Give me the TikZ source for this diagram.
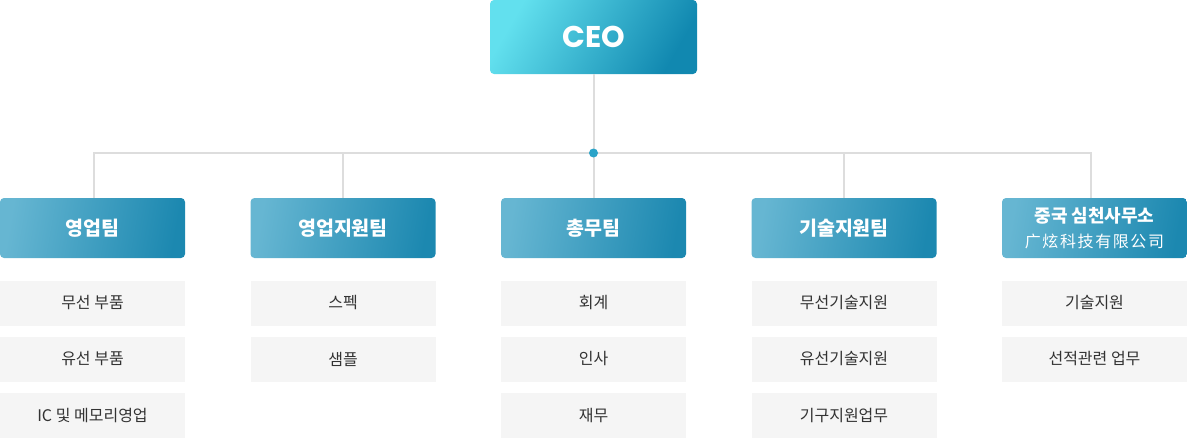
\documentclass[tikz,border=0pt]{standalone}
\usepackage{fontspec}
\setmainfont{Noto Sans CJK KR}
\newfontfamily\zhfont[LetterSpace=10]{Noto Sans CJK SC}
\newfontfamily\logofont{Poppins}
\definecolor{ceoL}{HTML}{62E0EE}
\definecolor{ceoR}{HTML}{1188B0}
\definecolor{teamL}{HTML}{66B6D2}
\definecolor{teamR}{HTML}{1C88B0}
\definecolor{taskgray}{HTML}{F5F5F5}
\definecolor{linegray}{HTML}{DDDDDD}
\definecolor{dotblue}{HTML}{2AA3C8}
\definecolor{textdark}{HTML}{333333}
\tikzset{
  ceo/.style={rounded corners=4pt, left color=ceoL, right color=ceoR, shading angle=60,
    minimum width=207pt, minimum height=74pt, inner sep=0pt, text=white,
    font=\logofont\bfseries\fontsize{30}{32}\selectfont},
  team/.style={rounded corners=4pt, left color=teamL, right color=teamR, shading angle=80,
    minimum width=185pt, minimum height=60pt, inner sep=0pt, text=white, align=center,
    font=\bfseries\fontsize{19.5}{22}\selectfont},
  task/.style={fill=taskgray, minimum width=185pt, minimum height=45pt, inner sep=0pt,
    text=textdark, font=\fontsize{16}{19}\selectfont},
  link/.style={draw=linegray, line width=2pt}
}
\begin{document}
\begin{tikzpicture}[x=1pt,y=-1pt]
	\useasboundingbox (0,0) rectangle (1187,439);
	\node [ceo] (ceo) at (593.5,37) {CEO};
	\coordinate (hub) at (593.5,153);
	\node [team] (sales)   at (92.5,228)  {영업팀};
	\node [team] (support) at (343,228)   {영업지원팀};
	\node [team] (admin)   at (593.5,228) {총무팀};
	\node [team] (tech)    at (844,228)   {기술지원팀};
	\node [team] (china)   at (1094.5,228) {{\fontsize{18}{20}\selectfont 중국 심천사무소}\\[3pt]{\zhfont\mdseries\fontsize{16}{19}\selectfont 广炫科技有限公司}};

	\draw [link] ([xshift=1.5pt]sales.north) |- (hub) -| ([xshift=-3.5pt]china.north);
	\draw [link] (ceo) -- (hub);
	\draw [link] (support.north) -- (support.north |- hub);
	\draw [link] (admin.north) -- (hub);
	\draw [link] (tech.north) -- (tech.north |- hub);
	\fill [dotblue] (hub) circle (4.5);

	\node [task] (sales1) at (92.5,303)   {무선 부품};
	\node [task] (sales2) at (92.5,359)   {유선 부품};
	\node [task] (sales3) at (92.5,415.5) {IC 및 메모리영업};
	\node [task] (sup1) at (343,303) {스펙};
	\node [task] (sup2) at (343,359) {샘플};
	\node [task] (adm1) at (593.5,303)   {회계};
	\node [task] (adm2) at (593.5,359)   {인사};
	\node [task] (adm3) at (593.5,415.5) {재무};
	\node [task] (tec1) at (844,303)   {무선기술지원};
	\node [task] (tec2) at (844,359)   {유선기술지원};
	\node [task] (tec3) at (844,415.5) {기구지원업무};
	\node [task] (chn1) at (1094.5,303) {기술지원};
	\node [task] (chn2) at (1094.5,359) {선적관련 업무};
\end{tikzpicture}
\end{document}
